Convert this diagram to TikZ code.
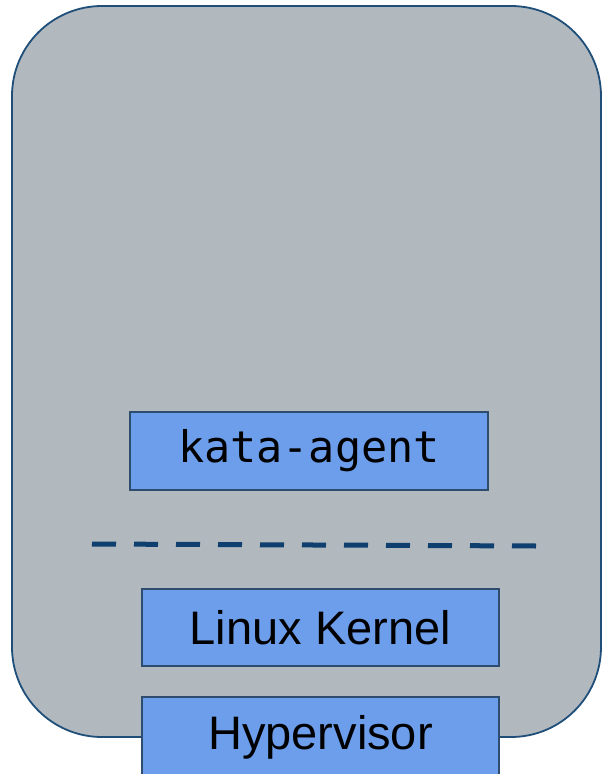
\documentclass[tikz,border=0pt]{standalone}
\usepackage{fontspec}
\setmainfont{Liberation Sans}
\newfontfamily\codefont{DejaVu Sans Mono}
\usepackage{tikz}
\usetikzlibrary{positioning}
\usepackage{xcolor}
\definecolor{vmgray}{HTML}{B1B9BF}
\definecolor{vmborder}{HTML}{1F4E79}
\definecolor{layerblue}{HTML}{6D9EEB}
\definecolor{layerborder}{HTML}{2E4D6E}
\definecolor{sepnavy}{HTML}{0E3F6E}

\begin{document}
\begin{tikzpicture}[x=1pt, y=-1pt,
        layer/.style={draw=layerborder, line width=1.3pt, fill=layerblue,
            minimum width=357pt, minimum height=77pt, inner sep=0pt,
            font=\fontsize{47}{50}\selectfont}]
        \useasboundingbox (0,0) rectangle (603,774);

        % Guest VM
        \draw[line width=1.8pt, draw=vmborder, fill=vmgray, rounded corners=90pt]
            (12,6) rectangle (601,737);

        % kata-agent
        \node[layer, minimum width=358pt, minimum height=78pt,
            font=\codefont\fontsize{43.5}{46}\selectfont] (agent) at (309,451) {\raisebox{-3pt}{kata-agent}};

        % separator
        \draw[line width=5pt, draw=sepnavy, dash pattern=on 24pt off 18pt] (92,544) -- (537,546);

        % Linux Kernel and Hypervisor
        \node[layer] (kernel) at (320.5,627.5) {Linux Kernel};
        \node[layer, minimum height=80pt] (hyper) at (320.5,737) {Hypervisor};
    \end{tikzpicture}
\end{document}
